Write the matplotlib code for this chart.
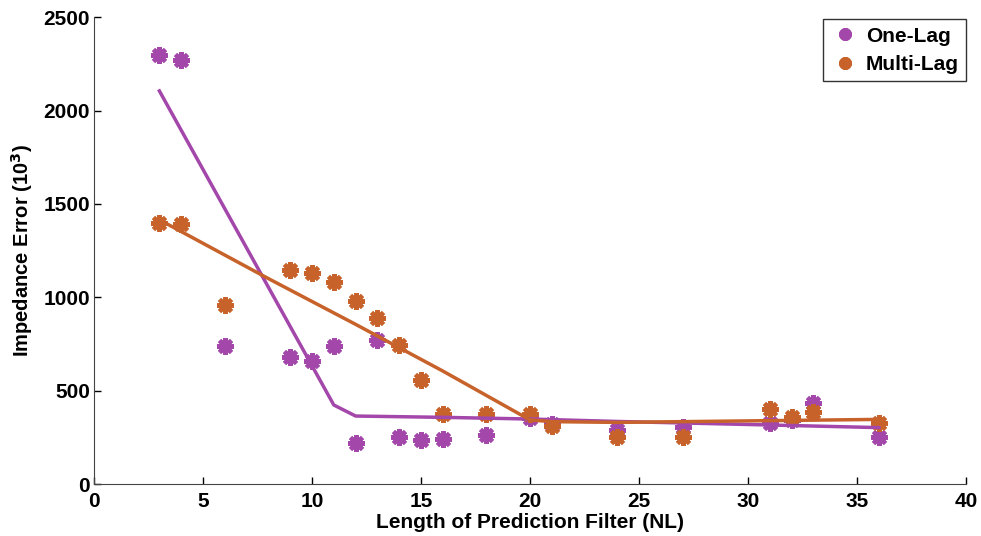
import matplotlib.pyplot as plt

plt.rcParams['font.family'] = ['Liberation Sans', 'DejaVu Sans']
plt.rcParams['font.weight'] = 'bold'

# measured points
nl = [3, 4, 6, 9, 10, 11, 12, 13, 14, 15, 16, 18, 20, 21, 24, 27, 31, 32, 33, 36]
one_lag = [2295, 2270, 739, 678, 658, 739, 218, 771, 250, 238, 240, 262, 352, 320,
           289, 307, 325, 343, 435, 253]
multi_lag = [1400, 1395, 958, 1146, 1129, 1081, 980, 888, 746, 557, 374, 373, 373, 312,
             253, 253, 400, 360, 384, 325]

# fitted curves
fit_x_one = [3, 11, 12, 16, 20, 24, 31, 36]
fit_one = [2105, 423, 364, 357, 348, 335, 316, 302]
fit_x_multi = [3, 8, 12, 16, 20, 21, 24, 36]
fit_multi = [1415, 1100, 855, 605, 343, 334, 330, 346]

purple = '#A347AB'
orange = '#C8622B'

fig = plt.figure(figsize=(9.81, 5.36), dpi=100)
ax = fig.add_axes([0.0958, 0.097, 0.889, 0.871])

mk = dict(marker=(8, 2, 0), markersize=12, markeredgewidth=3, linestyle='none')
ax.plot(nl, one_lag, color=purple, markeredgecolor=purple, label='One-Lag', **mk)
ax.plot(nl, multi_lag, color=orange, markeredgecolor=orange, label='Multi-Lag', **mk)
ax.plot(fit_x_one, fit_one, color=purple, lw=2.5)
ax.plot(fit_x_multi, fit_multi, color=orange, lw=2.5)

ax.set_xlim(0, 40)
ax.set_ylim(0, 2500)
ax.set_xticks(range(0, 41, 5))
ax.set_yticks(range(0, 2501, 500))
ax.tick_params(direction='in', labelsize=15, length=5, width=1)
ax.tick_params(axis='x', pad=6)
ax.tick_params(axis='y', pad=3)
for s in ['top', 'right']:
    ax.spines[s].set_visible(False)
for s in ['left', 'bottom']:
    ax.spines[s].set_color('#444444')

ax.set_xlabel('Length of Prediction Filter (NL)', fontsize=15, fontweight='bold', labelpad=1)
ax.set_ylabel('Impedance Error (10$^3$)', fontsize=14.5, fontweight='bold', labelpad=6)

leg = ax.legend(loc='upper right', bbox_to_anchor=(1.0, 0.995), fontsize=15,
                frameon=True, fancybox=False, edgecolor='black',
                handletextpad=0.3, handlelength=1.4, borderaxespad=0,
                borderpad=0.35, labelspacing=0.45)
leg.get_frame().set_linewidth(1)
for h in leg.legend_handles:
    h.set_markersize(9)

fig.savefig('out.png', dpi=100)
